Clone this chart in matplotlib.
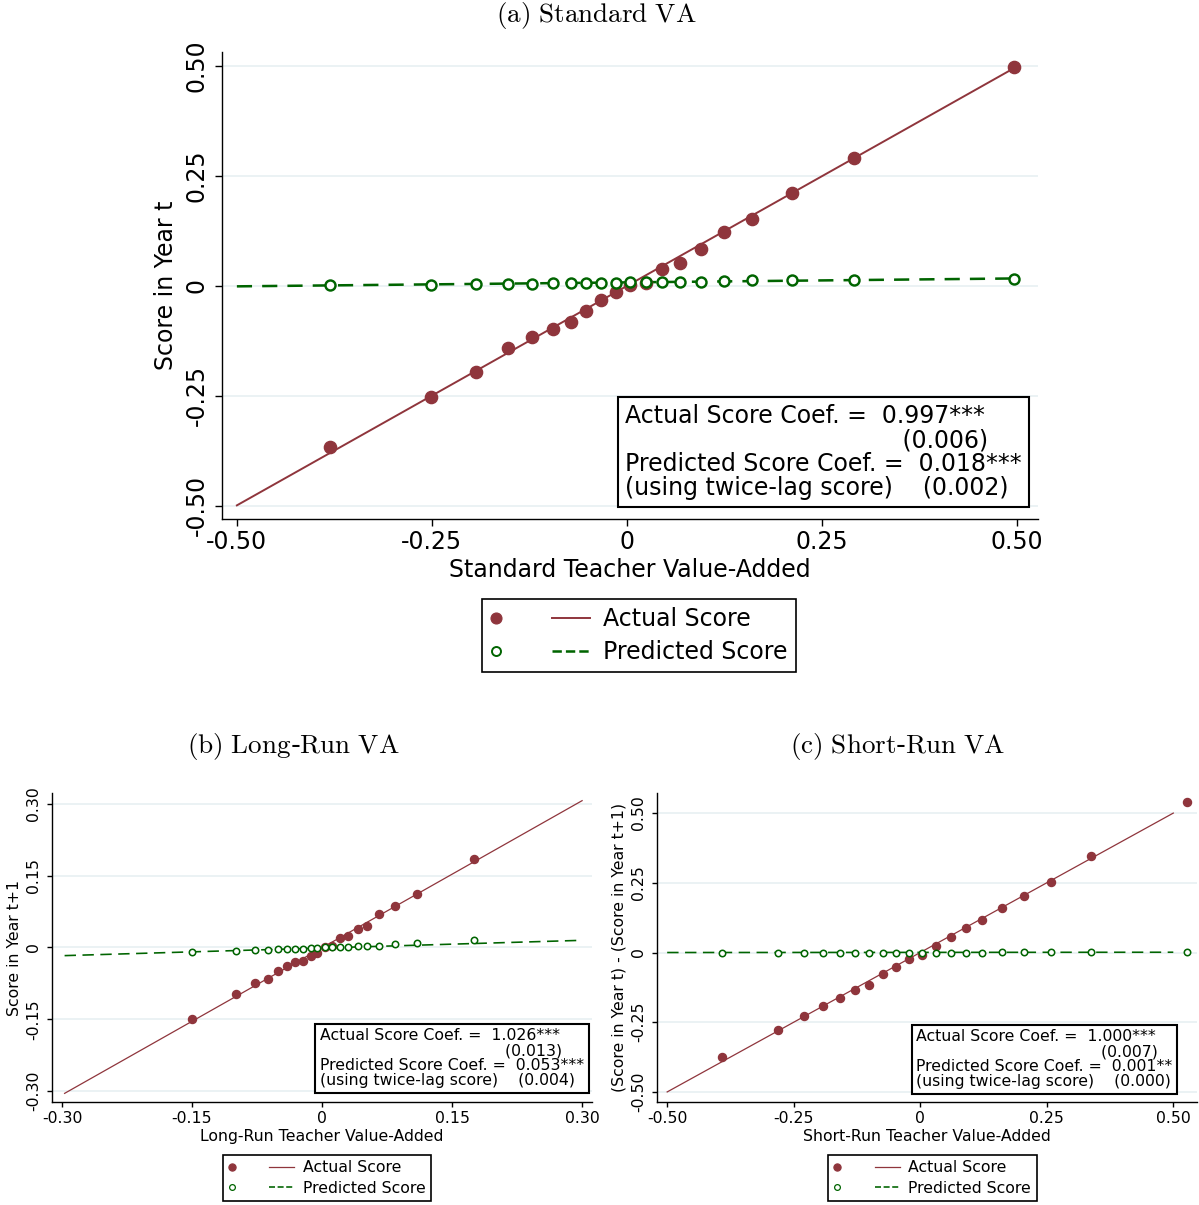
import matplotlib
matplotlib.use('Agg')
import matplotlib.pyplot as plt
from matplotlib.lines import Line2D
from matplotlib.legend_handler import HandlerBase

plt.rcParams['font.family'] = 'DejaVu Sans'
plt.rcParams['mathtext.fontset'] = 'cm'

red = '#8f353c'
green = '#006400'
gridcol = '#e9f1f3'

# (a) Standard VA - binned scatter
a_x = [-0.381, -0.251, -0.194, -0.153, -0.122, -0.095, -0.072, -0.053, -0.033, -0.014,
       0.004, 0.024, 0.045, 0.068, 0.095, 0.124, 0.160, 0.212, 0.291, 0.496]
a_actual = [-0.366, -0.252, -0.195, -0.141, -0.116, -0.098, -0.082, -0.057, -0.032, -0.014,
            0.002, 0.007, 0.039, 0.052, 0.084, 0.123, 0.152, 0.211, 0.291, 0.498]
a_pred = [0.002, 0.002, 0.004, 0.005, 0.005, 0.006, 0.006, 0.006, 0.007, 0.007,
          0.008, 0.008, 0.009, 0.009, 0.010, 0.012, 0.013, 0.014, 0.014, 0.015]
a_fit_x = [-0.5, 0.5]
a_fit_actual = [-0.499, 0.499]
a_fit_pred = [-0.001, 0.017]

# (b) Long-Run VA
b_x = [-0.150, -0.099, -0.077, -0.062, -0.051, -0.040, -0.031, -0.022, -0.013, -0.006,
       0.003, 0.012, 0.021, 0.030, 0.041, 0.052, 0.066, 0.084, 0.110, 0.175]
b_actual = [-0.149, -0.098, -0.075, -0.065, -0.050, -0.038, -0.031, -0.029, -0.018, -0.012,
            0.001, 0.004, 0.019, 0.023, 0.038, 0.044, 0.069, 0.086, 0.111, 0.186]
b_pred = [-0.010, -0.008, -0.006, -0.006, -0.004, -0.004, -0.003, -0.003, -0.002, -0.002,
          0.001, 0.001, 0.000, 0.001, 0.003, 0.003, 0.004, 0.007, 0.010, 0.015]
b_fit_x = [-0.297, 0.300]
b_fit_actual = [-0.305, 0.307]
b_fit_pred = [-0.017, 0.015]

# (c) Short-Run VA
c_x = [-0.391, -0.281, -0.229, -0.192, -0.158, -0.128, -0.101, -0.074, -0.048, -0.022,
       0.003, 0.031, 0.060, 0.090, 0.123, 0.161, 0.205, 0.258, 0.337, 0.528]
c_actual = [-0.373, -0.277, -0.229, -0.191, -0.164, -0.135, -0.116, -0.078, -0.051, -0.022,
            -0.010, 0.023, 0.054, 0.087, 0.117, 0.159, 0.201, 0.254, 0.347, 0.538]
c_pred = [0.000, 0.000, 0.000, 0.000, 0.000, 0.000, 0.000, 0.000, 0.000, 0.000,
          0.000, 0.000, 0.000, 0.000, 0.000, 0.001, 0.001, 0.001, 0.001, 0.001]
c_fit_x = [-0.5, 0.5]
c_fit_actual = [-0.500, 0.500]
c_fit_pred = [0.000, 0.001]

ticks_a = [-0.5, -0.25, 0, 0.25, 0.5]
ticklab_a = ['-0.50', '-0.25', '0', '0.25', '0.50']
ticks_b = [-0.3, -0.15, 0, 0.15, 0.3]
ticklab_b = ['-0.30', '-0.15', '0', '0.15', '0.30']

pad = ' ' * 37
note_a = ('Actual Score Coef. =  0.997***\n' + pad + '(0.006)\n'
          'Predicted Score Coef. =  0.018***\n(using twice-lag score)    (0.002)')
note_b = ('Actual Score Coef. =  1.026***\n' + pad + '(0.013)\n'
          'Predicted Score Coef. =  0.053***\n(using twice-lag score)    (0.004)')
note_c = ('Actual Score Coef. =  1.000***\n' + pad + '(0.007)\n'
          'Predicted Score Coef. =  0.001**\n(using twice-lag score)    (0.000)')


class DotLineHandler(HandlerBase):
    # stata-style key: marker on the left, line segment next to the label
    def create_artists(self, legend, orig_handle, xdescent, ydescent, width, height, fontsize, trans):
        src_dot, src_line = orig_handle
        y = height / 2.0 - ydescent
        dot = Line2D([0.05 * width - xdescent], [y], linestyle='none',
                     marker=src_dot.get_marker(), markersize=src_dot.get_markersize() * 0.9,
                     markerfacecolor=src_dot.get_markerfacecolor(),
                     markeredgecolor=src_dot.get_markeredgecolor(),
                     markeredgewidth=src_dot.get_markeredgewidth() * 0.8)
        seg = Line2D([0.62 * width - xdescent, width - xdescent], [y, y],
                     color=src_line.get_color(), linewidth=src_line.get_linewidth(),
                     linestyle=src_line.get_linestyle())
        dot.set_transform(trans)
        seg.set_transform(trans)
        return [dot, seg]


def panel(ax, x, act, pred, fx, fa, fp, xlim, ylim, ticks, ticklab, xlabel, ylabel,
          note, note_xy, fs, ms_dot, ms_circ, lw, dash, ticklen, ylabpad):
    ax.plot(fx, fa, color=red, lw=lw, zorder=2)
    ax.plot(fx, fp, color=green, lw=lw * 1.3, dashes=dash, zorder=2)
    dots, = ax.plot(x, act, 'o', color=red, ms=ms_dot, zorder=3)
    circs, = ax.plot(x, pred, 'o', mfc='white', mec=green, mew=lw * 1.25, ms=ms_circ, zorder=4)
    line_a = Line2D([], [], color=red, lw=lw)
    line_p = Line2D([], [], color=green, lw=lw * 1.3, dashes=dash)
    ax.set_xlim(xlim)
    ax.set_ylim(ylim)
    ax.set_xticks(ticks)
    ax.set_xticklabels(ticklab)
    ax.set_yticks(ticks)
    ax.set_yticklabels(ticklab, rotation=90, va='center')
    ax.tick_params(direction='out', length=ticklen, width=1.0, labelsize=fs, pad=3)
    ax.tick_params(axis='y', pad=4.5)
    ax.yaxis.grid(True, color=gridcol, lw=1.3)
    ax.set_axisbelow(True)
    for s in ['top', 'right']:
        ax.spines[s].set_visible(False)
    for s in ['left', 'bottom']:
        ax.spines[s].set_linewidth(1.0)
    ax.set_xlabel(xlabel, fontsize=fs, labelpad=2.5)
    ax.set_ylabel(ylabel, fontsize=fs, labelpad=ylabpad)
    ax.text(note_xy[0], note_xy[1], note, transform=ax.transAxes, fontsize=fs,
            ha='left', va='bottom', linespacing=1.0, zorder=5,
            bbox=dict(boxstyle='square,pad=0.3', fc='white', ec='black', lw=1.5))
    return [(dots, line_a), (circs, line_p)]


fig = plt.figure(figsize=(11.99, 12.05), dpi=100)

ax_a = fig.add_axes([0.1852, 0.5693, 0.6806, 0.3876])
h_a = panel(ax_a, a_x, a_actual, a_pred, a_fit_x, a_fit_actual, a_fit_pred,
            (-0.519, 0.527), (-0.530, 0.532), ticks_a, ticklab_a,
            'Standard Teacher Value-Added', 'Score in Year t',
            note_a, (0.494, 0.040), 17, 8.8, 7.2, 1.4, (6, 4), 5, 5)

ax_b = fig.add_axes([0.0434, 0.0855, 0.4504, 0.2564])
h_b = panel(ax_b, b_x, b_actual, b_pred, b_fit_x, b_fit_actual, b_fit_pred,
            (-0.3115, 0.3115), (-0.323, 0.323), ticks_b, ticklab_b,
            'Long-Run Teacher Value-Added', 'Score in Year t+1',
            note_b, (0.496, 0.044), 11.3, 5.8, 4.6, 0.9, (7, 4), 3.5, 3)

ax_c = fig.add_axes([0.5480, 0.0855, 0.4504, 0.2564])
h_c = panel(ax_c, c_x, c_actual, c_pred, c_fit_x, c_fit_actual, c_fit_pred,
            (-0.520, 0.547), (-0.536, 0.572), ticks_a, ticklab_a,
            'Short-Run Teacher Value-Added', '(Score in Year t) - (Score in Year t+1)',
            note_c, (0.480, 0.041), 11.3, 5.8, 4.6, 0.9, (7, 4), 3.5, 3)

labels = ['Actual Score', 'Predicted Score']
for h, pos, fs in [(h_a, (0.533, 0.4726), 17), (h_b, (0.2727, 0.0224), 11.3),
                   (h_c, (0.7777, 0.0224), 11.3)]:
    leg = fig.legend(h, labels, loc='center', bbox_to_anchor=pos, fontsize=fs,
                     handler_map={tuple: DotLineHandler()}, handlelength=4.2,
                     handletextpad=0.55, borderpad=0.35, labelspacing=0.38,
                     fancybox=False, framealpha=1, edgecolor='black')
    leg.get_frame().set_linewidth(1.2)

fig.text(0.497, 0.9870, r'$\mathrm{(a)\ Standard\ VA}$', ha='center', va='center', fontsize=19.5)
fig.text(0.2444, 0.3809, r'$\mathrm{(b)\ Long}$-$\mathrm{Run\ VA}$', ha='center', va='center', fontsize=19.5)
fig.text(0.749, 0.3809, r'$\mathrm{(c)\ Short}$-$\mathrm{Run\ VA}$', ha='center', va='center', fontsize=19.5)

fig.savefig('out.png', dpi=100)
